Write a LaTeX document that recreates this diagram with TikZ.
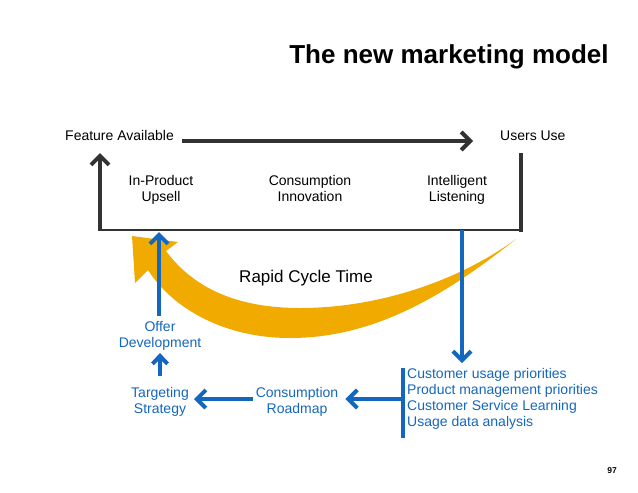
\documentclass[tikz,border=0pt]{standalone}
\usepackage{fontspec}
\setmainfont{Liberation Sans}
\usetikzlibrary{arrows.meta}
\definecolor{myblue}{RGB}{20,103,190}
\definecolor{myorange}{RGB}{240,170,0}
\definecolor{mydark}{RGB}{50,50,50}
\begin{document}
\begin{tikzpicture}[x=1pt,y=-1pt,
  lbl/.style={font=\fontsize{14}{16}\selectfont, align=center, inner sep=0pt, text=black},
  bluelbl/.style={lbl, text=myblue},
  darkarr/.style={draw=mydark, line width=4pt, -{Straight Barb[length=9pt,width=18pt]}},
  bluearr/.style={draw=myblue, line width=4pt, -{Straight Barb[length=9pt,width=18pt]}},
  smallbluearr/.style={draw=myblue, line width=4pt, -{Straight Barb[length=8pt,width=15pt]}},
]
\useasboundingbox (0,0) rectangle (638,493);

% title
\node[font=\fontsize{26}{30}\selectfont\bfseries, anchor=base, inner sep=0pt] (title) at (449,63) {The new marketing model};

% top labels
\node[lbl, anchor=base west] (feat) at (65,140) {Feature Available};
\node[lbl, anchor=base west] (users) at (500,140) {Users Use};

\coordinate (ts) at (182,141);
\coordinate (te) at (473,141);
\draw[darkarr] (ts) -- (te);

% frame
\coordinate (bl) at (100,230);
\coordinate (tl) at (100,153);
\coordinate (br) at (521,230);
\coordinate (tr) at (521,153);
\draw[mydark, line width=2pt] (bl) -- (br);
\draw[mydark, line width=3.5pt] (tr) -- ([yshift=-2pt]br);
\draw[darkarr] ([yshift=-1pt]bl) -- (tl);

\node[lbl] (upsell) at (161,190) {\strut In-Product\\\strut Upsell};
\node[lbl] (innov) at (310,190) {\strut Consumption\\\strut Innovation};
\node[lbl] (listen) at (457,190) {\strut Intelligent\\\strut Listening};

% orange swoosh
\fill[myorange] (516,239) .. controls (440,300) and (370,338) .. (290,338)
  .. controls (220,338) and (170,305) .. (148,270)
  -- (135,283) -- (132,236) -- (178,242) -- (166,251)
  .. controls (195,290) and (240,308) .. (300,308)
  .. controls (380,308) and (460,280) .. (516,239) -- cycle;

\node[font=\fontsize{17}{20}\selectfont, anchor=base, inner sep=0pt] (rapid) at (306,282) {Rapid Cycle Time};

% blue part
\coordinate (dtop) at (462,230);
\coordinate (dbot) at (462,363);
\draw[bluearr] (dtop) -- (dbot);

\coordinate (bartop) at (403,368);
\coordinate (barbot) at (403,438);
\draw[myblue, line width=3.5pt] (bartop) -- (barbot);
\coordinate (barmid) at (403,399);

\node[bluelbl, align=left, anchor=west] (list) at (407,398.8) {\strut Customer usage priorities\\\strut Product management priorities\\\strut Customer Service Learning\\\strut Usage data analysis};

\node[bluelbl] (roadmap) at (297,402) {\strut Consumption\\\strut Roadmap};
\node[bluelbl] (target) at (160,402) {\strut Targeting\\\strut Strategy};
\node[bluelbl] (offer) at (160,336) {\strut Offer\\\strut Development};

\draw[bluearr] (barmid) -- ([xshift=7pt]roadmap.east |- barmid);
\draw[bluearr] ([xshift=-3pt]roadmap.west |- barmid) -- ([xshift=5pt]target.east |- barmid);
\draw[smallbluearr] (160,376) -- (160,353);
\coordinate (oup) at (159,232);
\draw[bluearr] (159,316) -- (oup);

\node[font=\fontsize{8.5}{10}\selectfont\bfseries, inner sep=0pt] (pg) at (612,471) {97};
\end{tikzpicture}
\end{document}
